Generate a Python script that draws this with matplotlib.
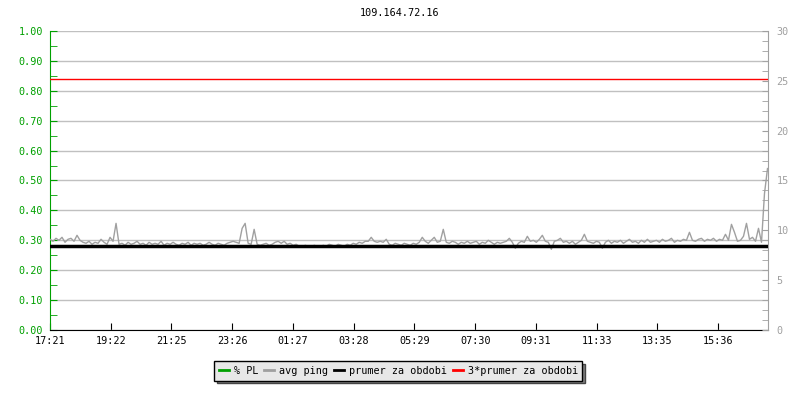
import numpy as np
from matplotlib import pyplot as plt
from matplotlib.ticker import MultipleLocator

title = "109.164.72.16"
tickLabels = ["17:21", "19:22", "21:25", "23:26", "01:27", "03:28",
              "05:29", "07:30", "09:31", "11:33", "13:35", "15:36"]
tickStep = 121.4      # minut mezi popisky
stepMin = 6           # krok mereni v minutach
xEnd = 1435

# avg ping (ms)
avgPing = [
    9.1, 8.9, 9.2, 9.0, 9.3, 8.8, 9.1, 9.2, 8.9, 9.5,
    9.0, 8.8, 8.7, 8.9, 8.6, 8.8, 8.7, 9.1, 8.8, 8.6,
    9.3, 8.9, 10.7, 8.6, 8.7, 8.5, 8.8, 8.6, 8.7, 8.9,
    8.6, 8.7, 8.5, 8.8, 8.6, 8.7, 8.6, 8.9, 8.5, 8.7,
    8.6, 8.8, 8.6, 8.5, 8.7, 8.6, 8.8, 8.5, 8.7, 8.6,
    8.7, 8.5, 8.6, 8.8, 8.6, 8.5, 8.7, 8.6, 8.5, 8.7,
    8.8, 8.9, 8.8, 8.7, 10.2, 10.7, 8.7, 8.6, 10.1, 8.6,
    8.5, 8.6, 8.7, 8.5, 8.6, 8.8, 8.9, 8.7, 8.9, 8.6,
    8.7, 8.5, 8.6, 8.4, 8.3, 8.5, 8.4, 8.3, 8.5, 8.4,
    8.3, 8.5, 8.4, 8.6, 8.5, 8.4, 8.6, 8.5, 8.4, 8.6,
    8.5, 8.7, 8.6, 8.8, 8.7, 8.9, 8.9, 9.3, 8.9, 8.8,
    8.9, 8.8, 9.1, 8.6, 8.5, 8.7, 8.6, 8.5, 8.7, 8.6,
    8.5, 8.7, 8.6, 8.8, 9.3, 8.9, 8.7, 9.0, 9.3, 8.8,
    8.9, 10.1, 8.8, 8.7, 8.9, 8.8, 8.6, 8.8, 8.7, 8.9,
    8.7, 8.8, 8.9, 8.6, 8.8, 8.7, 9.0, 8.8, 8.6, 8.8,
    8.7, 8.8, 8.9, 9.2, 8.8, 8.2, 8.7, 8.9, 8.8, 9.4,
    8.9, 9.0, 8.8, 9.1, 9.5, 8.9, 8.8, 8.1, 8.9, 9.0,
    9.2, 8.8, 8.9, 8.7, 8.9, 8.6, 8.8, 9.0, 9.6, 8.9,
    8.8, 8.7, 8.9, 8.8, 8.2, 8.8, 9.0, 8.7, 8.9, 8.8,
    9.0, 8.7, 8.9, 9.1, 8.8, 8.9, 8.7, 9.0, 8.8, 9.1,
    8.8, 8.9, 9.0, 8.8, 9.1, 8.9, 9.0, 9.2, 8.8, 9.0,
    8.9, 9.1, 9.0, 9.8, 9.0, 8.9, 9.1, 9.2, 8.9, 9.1,
    9.0, 9.2, 8.9, 9.1, 9.0, 9.6, 9.0, 10.6, 9.8, 8.9,
    9.0, 9.4, 10.7, 9.1, 9.3, 8.9, 10.2, 8.8, 13.7, 16.2,
]
prumer = 8.4

green = "#00a000"
gray = "#a0a0a0"
grid = "#c0c0c0"
font = "DejaVu Sans Mono"
fs = 7.3
plt.rcParams['font.family'] = font
plt.rcParams['font.size'] = fs

t = np.arange(len(avgPing)) * stepMin

fig = plt.figure(figsize=(8, 4), dpi=100)
ax = fig.add_axes([0.0625, 0.175, 0.8975, 0.7475])
ax2 = ax.twinx()

ax.set_xlim(0, xEnd)
ax.set_ylim(0, 1)
ax2.set_ylim(0, 30)

# mrizka
ax.yaxis.set_major_locator(MultipleLocator(0.1))
ax.yaxis.set_minor_locator(MultipleLocator(0.05))
ax.grid(axis='y', color=grid, linewidth=1)
ax.set_axisbelow(True)
ax.yaxis.set_major_formatter(lambda v, p: f"{v:.2f}")

ax2.yaxis.set_major_locator(MultipleLocator(5))
ax2.yaxis.set_minor_locator(MultipleLocator(1))

ax.set_xticks([i * tickStep for i in range(len(tickLabels))])
ax.set_xticklabels(tickLabels, fontsize=fs)

# data
ax2.plot(t, avgPing, color=gray, linewidth=1, zorder=2)
ax2.axhline(prumer, color="black", linewidth=2.5, zorder=3)
ax2.axhline(3 * prumer, color="#ff0000", linewidth=1, zorder=3)

# osy
for a in (ax, ax2):
    a.spines['top'].set_visible(False)
ax.spines['left'].set_color(green)
ax.spines['right'].set_visible(False)
ax2.spines['left'].set_visible(False)
ax2.spines['right'].set_color(gray)
ax2.spines['bottom'].set_visible(False)

ax.tick_params(axis='y', which='both', direction='in', colors=green, length=5)
ax.tick_params(axis='y', which='major', labelcolor=green, pad=5)
ax.tick_params(axis='x', direction='in', length=5, pad=4)
ax2.tick_params(axis='y', which='both', direction='in', colors=gray, length=4, pad=6)
ax2.tick_params(axis='y', which='major', labelcolor=gray)

fig.text(0.5, 0.9675, title, ha='center', va='center', fontsize=fs)

h = [plt.Line2D([], [], color=green, linewidth=2),
     plt.Line2D([], [], color=gray, linewidth=2),
     plt.Line2D([], [], color="black", linewidth=2),
     plt.Line2D([], [], color="#ff0000", linewidth=2)]
labels = ["% PL", "avg ping", "prumer za obdobi", "3*prumer za obdobi"]
leg = fig.legend(h, labels, loc='center', bbox_to_anchor=(0.498, 0.0725), ncol=4,
                 fontsize=fs, handlelength=1.0, handletextpad=0.45, columnspacing=0.6,
                 borderpad=0.45, fancybox=False, framealpha=1, facecolor="#e8e8e8",
                 edgecolor="black", shadow={'facecolor': '#808080', 'alpha': 1})
leg.get_frame().set_linewidth(1)

plt.savefig("out.png", dpi=100)
plt.close()
